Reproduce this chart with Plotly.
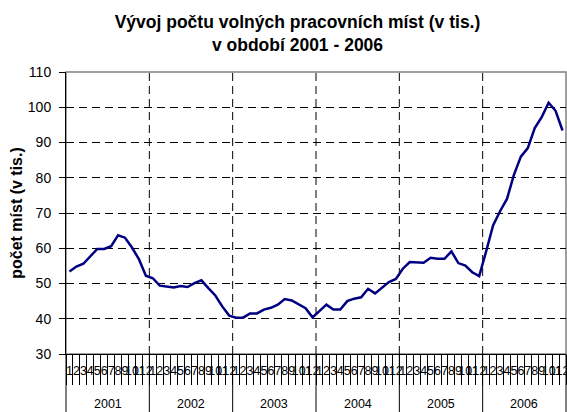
import plotly.graph_objects as go

years = ["2001", "2002", "2003", "2004", "2005", "2006"]
months = ["1", "2", "3", "4", "5", "6", "7", "8", "9", "10", "11", "12"]

v2001 = [53.4, 54.8, 55.6, 57.8, 59.8, 59.8, 60.6, 63.7, 63.0, 60.2, 56.9, 52.2]
v2002 = [51.5, 49.4, 49.2, 48.9, 49.3, 49.0, 50.1, 50.9, 48.7, 46.6, 43.5, 40.9]
v2003 = [40.3, 40.3, 41.5, 41.5, 42.6, 43.1, 44.0, 45.6, 45.2, 44.0, 43.0, 40.4]
v2004 = [42.2, 44.0, 42.6, 42.6, 45.0, 45.7, 46.1, 48.5, 47.2, 48.9, 50.4, 51.3]
v2005 = [54.2, 56.1, 55.9, 55.9, 57.3, 57.0, 57.0, 59.1, 55.8, 55.1, 53.2, 52.1]
v2006 = [59.1, 66.5, 70.5, 74.0, 80.8, 86.0, 88.4, 94.1, 97.2, 101.3, 99.0, 93.4]

y_ticks = [30, 40, 50, 60, 70, 80, 90, 100, 110]

values = v2001 + v2002 + v2003 + v2004 + v2005 + v2006
# year level of the multicategory axis uses invisible keys; year text drawn as annotations
year_keys = ["\u200b" * (i + 1) for i in range(len(years))]
x_year = [k for k in year_keys for _ in months]
x_month = [m for _ in years for m in months]
n_cat = len(x_month)
n_year = len(years)

FONT = "Liberation Sans, Arial, sans-serif"

W, H = 567, 412
ML, MR, MT, MB = 66, 1, 72, 58
plot_h = H - MT - MB

fig = go.Figure()
fig.add_trace(go.Scatter(
    x=[x_year, x_month], y=values, mode="lines",
    line=dict(color="#000080", width=2.5), showlegend=False, hoverinfo="skip",
))

shapes = []
# plot frame (gray top/right)
shapes.append(dict(type="rect", xref="x domain", yref="y domain", x0=0, x1=1, y0=0, y1=1,
                   line=dict(color="#808080", width=1.5), layer="below"))
# dashed vertical lines at year boundaries inside the plot
for k in range(1, n_year):
    shapes.append(dict(type="line", xref="x domain", yref="y domain", x0=k / n_year, x1=k / n_year,
                       y0=0, y1=1, line=dict(color="#000000", width=1, dash="8px,5px"), layer="below"))
# solid year dividers below the axis
for k in range(0, n_year + 1):
    shapes.append(dict(type="line", xref="x domain", yref="paper", x0=k / n_year, x1=k / n_year,
                       y0=0, y1=-MB / plot_h, line=dict(color="#000000", width=1), layer="above"))
fig.update_layout(shapes=shapes)

annotations = []
for k, yr in enumerate(years):
    annotations.append(dict(text=yr, xref="x domain", yref="paper", x=(k + 0.5) / n_year,
                            y=-(404 - (H - MB)) / plot_h, xanchor="center", yanchor="middle",
                            showarrow=False, font=dict(family=FONT, size=12.5, color="black")))
fig.update_layout(annotations=annotations)

fig.update_layout(
    width=W, height=H,
    margin=dict(l=ML, r=MR, t=MT, b=MB),
    paper_bgcolor="white", plot_bgcolor="white",
    font=dict(family=FONT, size=12, color="black"),
    title=dict(text="<b>Vývoj počtu volných pracovních míst (v tis.)<br>v období 2001 - 2006</b>",
               x=297.5 / W, xanchor="center", xref="container", y=1 - 28 / H, yanchor="top", yref="container",
               font=dict(family=FONT, size=17.5, color="black")),
    xaxis=dict(
        type="multicategory", showgrid=False, zeroline=False,
        range=[-0.5, n_cat - 0.5],
        showline=True, linecolor="black", linewidth=1,
        ticks="outside", tickson="boundaries", ticklen=30, tickcolor="black", tickwidth=1,
        dtick=1, nticks=100,
        tickangle=0, tickfont=dict(family=FONT, size=12.5, color="black"),
        ticklabelstandoff=5,
        showdividers=False,
        automargin=False,
    ),
    yaxis=dict(
        range=[30, 110], tickvals=y_ticks, ticks="outside", ticklen=6, tickcolor="black",
        showline=True, linecolor="black", linewidth=1,
        showgrid=True, gridcolor="black", gridwidth=1, griddash="8px,5px",
        zeroline=False, tickfont=dict(family=FONT, size=14, color="black"),
        ticklabelstandoff=5,
        title=dict(text="<b>počet míst (v tis.)</b>", font=dict(family=FONT, size=16, color="black"), standoff=1),
        automargin=False,
    ),
)

fig.write_html("out.html", config={"displayModeBar": False, "staticPlot": True},
               post_script="document.body.style.margin='0';document.body.style.overflow='hidden';")
